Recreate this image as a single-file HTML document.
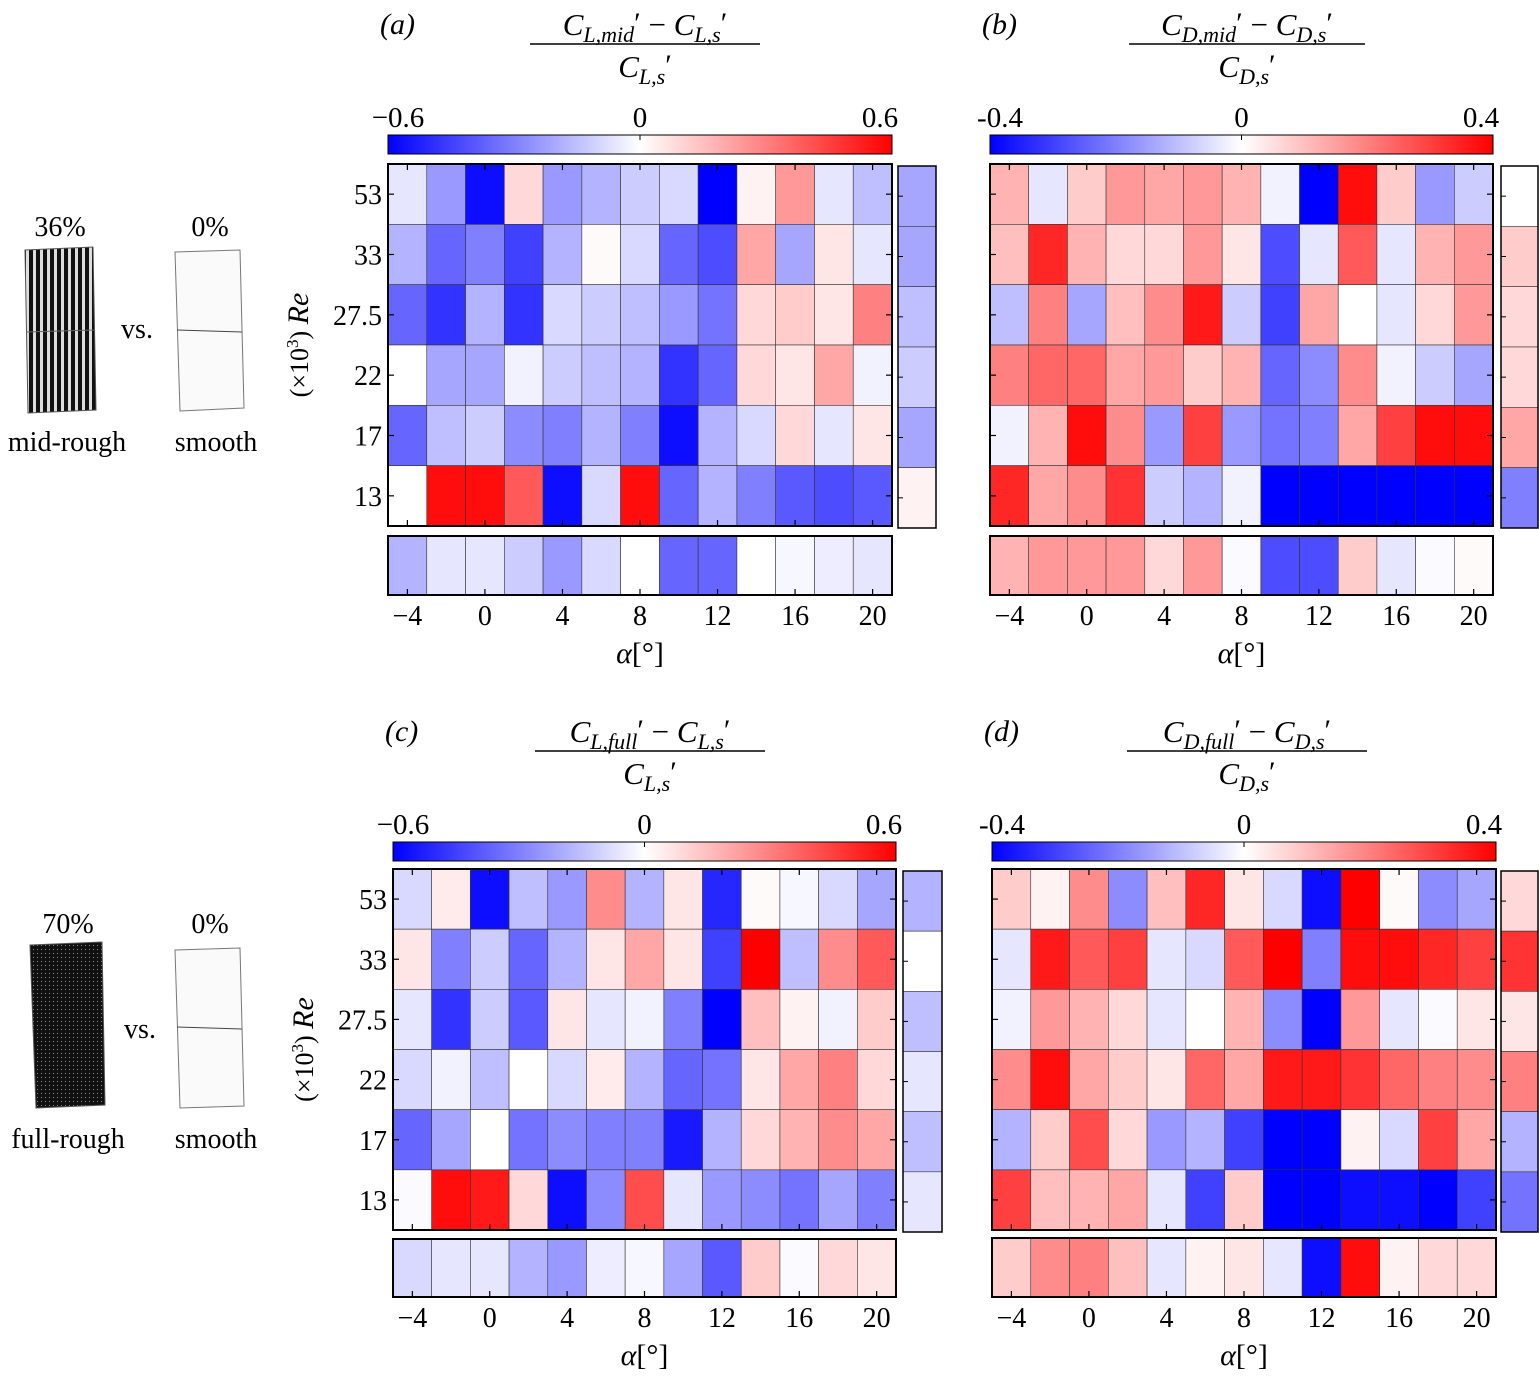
<!DOCTYPE html>
<html><head><meta charset="utf-8"><style>
body{margin:0;background:#fff}
svg{display:block;font-family:"Liberation Serif",serif}
</style></head><body>
<svg id="fig" width="1539" height="1377" viewBox="0 0 1539 1377" xmlns="http://www.w3.org/2000/svg">
<defs>
<linearGradient id="cmap" x1="0" x2="1" y1="0" y2="0">
<stop offset="0" stop-color="#0000ff"/><stop offset="0.5" stop-color="#ffffff"/><stop offset="1" stop-color="#ff0000"/>
</linearGradient>
<pattern id="stripes" width="7" height="6" patternUnits="userSpaceOnUse">
<rect width="7" height="6" fill="#ddd"/><rect x="1" width="4" height="6" fill="#111"/>
</pattern>
<pattern id="dots" width="4" height="4" patternUnits="userSpaceOnUse">
<rect width="4" height="4" fill="#111"/><rect x="1" y="1" width="1" height="1" fill="#888"/>
</pattern>
</defs>
<g font-size="28">
<text x="60" y="236" text-anchor="middle">36%</text>
<text x="210" y="236" text-anchor="middle">0%</text>
<path d="M25 250 L93 247 L96 410 L28 413 Z" fill="url(#stripes)" stroke="#555"/>
<line x1="26" y1="332" x2="94" y2="330" stroke="#666"/>
<path d="M175 252 L240 250 L244 408 L180 411 Z" fill="#fafafa" stroke="#777"/>
<line x1="177" y1="330" x2="242" y2="332" stroke="#444"/>
<text x="137" y="338" text-anchor="middle">vs.</text>
<text x="67" y="451" text-anchor="middle">mid-rough</text>
<text x="216" y="451" text-anchor="middle">smooth</text>
</g>
<g font-size="28">
<text x="68" y="933" text-anchor="middle">70%</text>
<text x="210" y="933" text-anchor="middle">0%</text>
<path d="M30 945 L102 942 L105 1105 L36 1108 Z" fill="url(#dots)" stroke="#555"/>
<path d="M175 950 L240 948 L244 1106 L180 1108 Z" fill="#fafafa" stroke="#777"/>
<line x1="177" y1="1027" x2="242" y2="1029" stroke="#444"/>
<text x="140" y="1038" text-anchor="middle">vs.</text>
<text x="68" y="1148" text-anchor="middle">full-rough</text>
<text x="216" y="1148" text-anchor="middle">smooth</text>
</g>
</svg>
<script>
// Shared axes
const alphaTicks = ['-4','0','4','8','12','16','20'];
const reLabels = ['53','33','27.5','22','17','13'];
// values are fractions of the colorbar limit (-1..1)
const valsA = [
[-0.1,-0.4,-0.95,0.15,-0.4,-0.3,-0.2,-0.15,-1.0,0.05,0.4,-0.1,-0.25],
[-0.3,-0.6,-0.5,-0.75,-0.3,0.02,-0.15,-0.6,-0.7,0.35,-0.35,0.1,-0.1],
[-0.6,-0.8,-0.3,-0.8,-0.15,-0.2,-0.25,-0.4,-0.55,0.15,0.2,0.1,0.5],
[0,-0.35,-0.35,-0.05,-0.2,-0.25,-0.3,-0.8,-0.6,0.15,0.1,0.35,-0.05],
[-0.6,-0.25,-0.2,-0.45,-0.5,-0.3,-0.5,-0.95,-0.3,-0.15,0.15,-0.1,0.1],
[0,0.95,0.95,0.65,-0.95,-0.15,0.95,-0.6,-0.3,-0.5,-0.65,-0.7,-0.65]];
const rightA = [-0.35,-0.35,-0.25,-0.2,-0.35,0.05];
const bottomA = [-0.3,-0.1,-0.1,-0.2,-0.4,-0.15,0,-0.6,-0.6,0,-0.03,-0.07,-0.1];
const valsB = [
[0.3,-0.1,0.2,0.4,0.35,0.4,0.3,-0.05,-1.0,0.95,0.2,-0.4,-0.2],
[0.25,0.85,0.3,0.15,0.15,0.4,0.1,-0.7,-0.1,0.65,-0.1,0.3,0.4],
[-0.25,0.5,-0.35,0.25,0.45,0.9,-0.2,-0.75,0.35,0,-0.1,0.15,0.4],
[0.5,0.6,0.6,0.35,0.4,0.2,0.3,-0.6,-0.45,0.45,-0.05,-0.2,-0.35],
[-0.05,0.3,0.95,0.45,-0.4,0.75,-0.4,-0.55,-0.5,0.35,0.75,0.95,0.95],
[0.85,0.35,0.45,0.8,-0.2,-0.3,-0.05,-1,-1,-1,-1,-1,-1]];
const rightB = [0,0.2,0.15,0.15,0.35,-0.5];
const bottomB = [0.3,0.4,0.4,0.4,0.15,0.4,-0.02,-0.7,-0.7,0.2,-0.1,-0.02,0.02];
const valsC = [
[-0.15,0.08,-0.95,-0.25,-0.4,0.45,-0.3,0.1,-0.85,0.02,-0.03,-0.15,-0.35],
[0.1,-0.5,-0.2,-0.6,-0.3,0.1,0.35,0.1,-0.75,1.0,-0.25,0.45,0.65],
[-0.1,-0.8,-0.2,-0.65,0.1,-0.1,-0.05,-0.5,-1.0,0.25,0.05,-0.05,0.2],
[-0.15,-0.05,-0.25,0,-0.15,0.08,-0.3,-0.6,-0.55,0.1,0.35,0.5,0.15],
[-0.6,-0.35,0,-0.55,-0.45,-0.5,-0.5,-0.9,-0.3,0.15,0.3,0.45,0.35],
[-0.02,0.95,0.9,0.15,-0.95,-0.45,0.7,-0.1,-0.4,-0.45,-0.55,-0.35,-0.5]];
const rightC = [-0.3,0,-0.25,-0.1,-0.25,-0.1];
const bottomC = [-0.15,-0.1,-0.1,-0.3,-0.4,-0.07,-0.03,-0.35,-0.65,0.2,-0.02,0.15,0.1];
const valsD = [
[0.2,0.05,0.45,-0.45,0.25,0.85,0.1,-0.15,-0.95,1.0,0.02,-0.45,-0.35],
[-0.1,0.9,0.65,0.75,-0.1,-0.15,0.65,1.0,-0.5,0.95,0.95,0.85,0.75],
[-0.05,0.4,0.3,0.15,-0.1,0,0.3,-0.45,-1.0,0.4,-0.1,-0.02,0.1],
[0.45,0.95,0.35,0.2,0.1,0.6,0.35,0.9,0.9,0.8,0.6,0.5,0.45],
[-0.3,0.2,0.7,0.15,-0.4,-0.3,-0.75,-1,-1,0.05,-0.15,0.75,0.35],
[0.75,0.25,0.3,0.35,-0.1,-0.75,0.2,-1,-1,-0.95,-0.95,-1,-0.75]];
const rightD = [0.15,0.8,0.1,0.5,-0.3,-0.55];
const bottomD = [0.2,0.45,0.5,0.25,-0.1,0.05,0.1,-0.1,-0.95,0.95,0.05,0.15,0.15];

const NS='http://www.w3.org/2000/svg';
const svg=document.getElementById('fig');
function mk(tag,attrs,parent,text){const e=document.createElementNS(NS,tag);for(const k in attrs)e.setAttribute(k,attrs[k]);if(text!==undefined)e.textContent=text;(parent||svg).appendChild(e);return e;}
function color(v){v=Math.max(-1,Math.min(1,v));let r,g,b;if(v<0){r=g=Math.round(255*(1+v));b=255;}else{r=255;g=b=Math.round(255*(1-v));}return `rgb(${r},${g},${b})`;}

function panel(p){
  const g=mk('g',{});
  
  
  const nc=13,nr=6,cw=(p.x1-p.x0)/nc,rh=(p.y1-p.y0)/nr;
  const xs=i=>p.x0+i*cw, ys=j=>p.y0+j*rh;
  const hm=mk('g',{},g);
  
  
  p.vals.forEach((row,j)=>row.forEach((v,i)=>{
    const c=mk('rect',{x:xs(i),y:ys(j),width:cw,height:rh,fill:color(v),stroke:'#333','stroke-width':0.6},hm);
    
    
  }));
  const fr=mk('rect',{x:p.x0,y:p.y0,width:p.x1-p.x0,height:p.y1-p.y0,fill:'none',stroke:'#000','stroke-width':2},g);
  
  
  reLabels.forEach((t,j)=>{
    const y=ys(j)+rh/2;
    if(p.ylab){
      const tl=mk('text',{x:p.x0-6,y:y+10,'text-anchor':'end','font-size':28},g,t);
      
      
    }
    mk('line',{x1:p.x0,x2:p.x0+6,y1:y,y2:y,stroke:'#000','stroke-width':1.2},g);
    mk('line',{x1:p.x1,x2:p.x1-6,y1:y,y2:y,stroke:'#000','stroke-width':1.2},g);
  });
  const rs=mk('g',{},g);
  
  
  const rx=p.rx, rw=p.rw, ry0=p.y0+2, rhh=(p.y1-p.y0)/nr;
  p.right.forEach((v,j)=>{
    const c=mk('rect',{x:rx,y:ry0+j*rhh,width:rw,height:rhh,fill:color(v),stroke:'#333','stroke-width':0.6},rs);
    
    
    mk('line',{x1:rx,x2:rx+5,y1:ry0+(j+0.5)*rhh,y2:ry0+(j+0.5)*rhh,stroke:'#000'},rs);
  });
  mk('rect',{x:rx,y:ry0,width:rw,height:rhh*nr,fill:'none',stroke:'#000','stroke-width':1.5},rs);
  const bs=mk('g',{},g);
  
  
  p.bottom.forEach((v,i)=>{
    const c=mk('rect',{x:xs(i),y:p.by0,width:cw,height:p.bh,fill:color(v),stroke:'#333','stroke-width':0.6},bs);
    
    
  });
  mk('rect',{x:p.x0,y:p.by0,width:p.x1-p.x0,height:p.bh,fill:'none',stroke:'#000','stroke-width':2},bs);
  alphaTicks.forEach((t,k)=>{
    const x=xs(2*k)+cw/2;
    mk('line',{x1:x,x2:x,y1:p.by0+p.bh,y2:p.by0+p.bh-6,stroke:'#000','stroke-width':1.2},bs);
    mk('line',{x1:x,x2:x,y1:p.y1,y2:p.y1-6,stroke:'#000','stroke-width':1.2},g);
    mk('line',{x1:x,x2:x,y1:p.y0,y2:p.y0+6,stroke:'#000','stroke-width':1.2},g);
    const tl=mk('text',{x:x,y:p.by0+p.bh+30,'text-anchor':'middle','font-size':28},g,t.replace('-','\u2212'));
    
    
  });
  const xl=mk('text',{x:(p.x0+p.x1)/2,y:p.by0+p.bh+68,'text-anchor':'middle','font-size':30},g);
  
  
  xl.innerHTML='<tspan font-style="italic">α</tspan>[°]';
  const cb=mk('g',{},g);
  
  
  mk('rect',{x:p.x0,y:p.cy,width:p.x1-p.x0,height:19,fill:'url(#cmap)',stroke:'#000','stroke-width':1},cb);
  [[p.x0+10,p.cbl[0]],[(p.x0+p.x1)/2,p.cbl[1]],[p.x1-12,p.cbl[2]]].forEach(([x,t],n)=>{
    const tx=[p.x0,(p.x0+p.x1)/2,p.x1][n];
    mk('line',{x1:tx,x2:tx,y1:p.cy,y2:p.cy+5,stroke:'#000'},cb);
    const tl=mk('text',{x:x,y:p.cy-8,'text-anchor':'middle','font-size':29},cb,t);
    
    
  });
  const pl=mk('text',{x:p.x0-8,y:p.ty+14,'font-size':30,'font-style':'italic'},g,'('+p.id+')');
  
  
  const cx=p.tx;
  const tt=mk('g',{},g);
  
  
  const num=mk('text',{x:cx,y:p.ty+15,'text-anchor':'middle','font-size':31,'font-style':'italic'},tt);
  num.innerHTML=`C<tspan font-size="22" dy="7">${p.q},${p.k}</tspan><tspan dy="-9" font-size="30" font-style="normal">′</tspan><tspan dy="2" font-style="normal"> − </tspan>C<tspan font-size="22" dy="7">${p.q},s</tspan><tspan dy="-9" font-size="30" font-style="normal">′</tspan>`;
  mk('line',{x1:cx-p.tw/2,x2:cx+p.tw/2,y1:p.ty+24,y2:p.ty+24,stroke:'#000','stroke-width':1.5},tt);
  const den=mk('text',{x:cx,y:p.ty+57,'text-anchor':'middle','font-size':31,'font-style':'italic'},tt);
  den.innerHTML=`C<tspan font-size="22" dy="7">${p.q},s</tspan><tspan dy="-9" font-size="30" font-style="normal">′</tspan>`;
  if(p.ylab){
    const yt=mk('text',{transform:`translate(${p.x0-80},${(p.y0+p.y1)/2}) rotate(-90)`,'text-anchor':'middle','font-size':26},g);
    
    
    yt.innerHTML='(×10<tspan dy="-10" font-size="17">3</tspan><tspan dy="10">)  </tspan><tspan font-style="italic" font-size="30">Re</tspan>';
  }
}
panel({id:'a',x0:388,x1:892,y0:164,y1:526,vals:valsA,right:rightA,bottom:bottomA,rx:898,rw:38,by0:536,bh:59,cy:135,cbl:['\u22120.6','0','0.6'],ty:20,tx:645,tw:230,q:'L',k:'mid',ylab:true});
panel({id:'b',x0:990,x1:1493,y0:164,y1:526,vals:valsB,right:rightB,bottom:bottomB,rx:1501,rw:37,by0:536,bh:59,cy:135,cbl:['-0.4','0','0.4'],ty:20,tx:1247,tw:236,q:'D',k:'mid',ylab:false});
panel({id:'c',x0:393,x1:896,y0:869,y1:1230,vals:valsC,right:rightC,bottom:bottomC,rx:903,rw:39,by0:1239,bh:58,cy:842,cbl:['\u22120.6','0','0.6'],ty:727,tx:650,tw:230,q:'L',k:'full',ylab:true});
panel({id:'d',x0:992,x1:1496,y0:869,y1:1230,vals:valsD,right:rightD,bottom:bottomD,rx:1501,rw:37,by0:1238,bh:59,cy:842,cbl:['-0.4','0','0.4'],ty:727,tx:1247,tw:240,q:'D',k:'full',ylab:false});
</script>
</body></html>
